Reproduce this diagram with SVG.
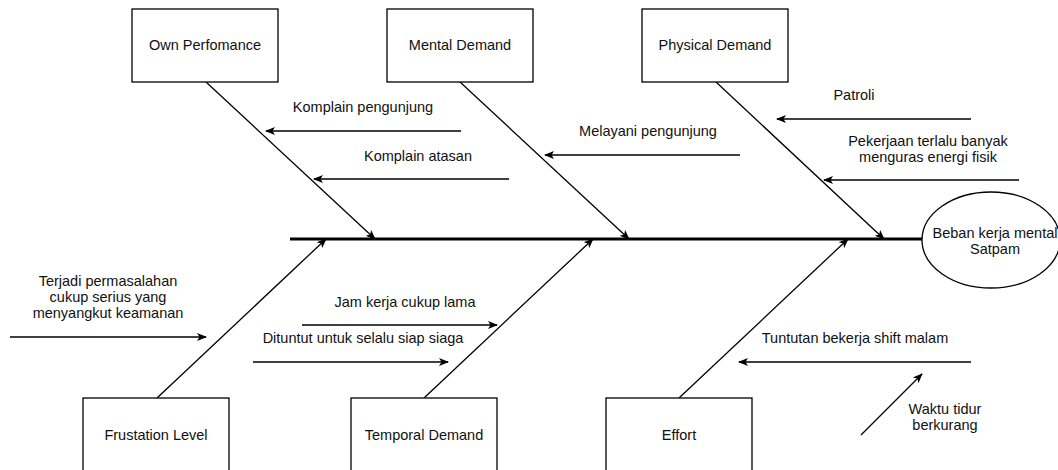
<svg xmlns="http://www.w3.org/2000/svg" width="1058" height="470" viewBox="0 0 1058 470">
<style>
.box{fill:#fff;stroke:#000;stroke-width:1.3}
.t{font-family:"Liberation Sans",Arial,sans-serif;font-size:14.5px;fill:#111;text-anchor:middle;dominant-baseline:central}
.c{stroke:#000;stroke-width:1.3;fill:none;marker-end:url(#ah)}
.spine{stroke:#000;stroke-width:3;fill:none}
</style>
<defs>
<marker id="ah" viewBox="0 0 10 10" refX="9" refY="5" markerWidth="10" markerHeight="10" markerUnits="userSpaceOnUse" orient="auto">
<path d="M0,1 L10,5 L0,9 L2.5,5 z" fill="#000"/>
</marker>
</defs>
<g id="connectors">
<line class="spine" x1="290" y1="239" x2="922" y2="239"/>
<line class="c" x1="206" y1="82" x2="375" y2="239"/>
<line class="c" x1="460" y1="82" x2="629" y2="239"/>
<line class="c" x1="716" y1="82" x2="884" y2="239"/>
<line class="c" x1="157" y1="398" x2="326" y2="239"/>
<line class="c" x1="424" y1="398" x2="593" y2="239"/>
<line class="c" x1="679" y1="398" x2="848" y2="239"/>
<line class="c" x1="461" y1="131" x2="266" y2="131"/>
<line class="c" x1="509" y1="179" x2="314" y2="179"/>
<line class="c" x1="740" y1="155" x2="545" y2="155"/>
<line class="c" x1="971" y1="119" x2="777" y2="119"/>
<line class="c" x1="1019" y1="180" x2="824" y2="180"/>
<line class="c" x1="10" y1="337" x2="206" y2="337"/>
<line class="c" x1="302" y1="325" x2="497" y2="325"/>
<line class="c" x1="253" y1="362" x2="448" y2="362"/>
<line class="c" x1="971" y1="362" x2="739" y2="362"/>
<line class="c" x1="861" y1="435" x2="922" y2="374"/>
</g>
<g id="own-perfomance"><rect class="box" x="132" y="9" width="146" height="73"/><text class="t" x="205" y="45">Own Perfomance</text></g>
<g id="mental-demand"><rect class="box" x="387" y="9" width="146" height="73"/><text class="t" x="460" y="45">Mental Demand</text></g>
<g id="physical-demand"><rect class="box" x="642" y="9" width="146" height="73"/><text class="t" x="715" y="45">Physical Demand</text></g>
<g id="frustation-level"><rect class="box" x="83" y="398" width="146" height="73"/><text class="t" x="156" y="435">Frustation Level</text></g>
<g id="temporal-demand"><rect class="box" x="351" y="398" width="146" height="73"/><text class="t" x="424" y="435">Temporal Demand</text></g>
<g id="effort"><rect class="box" x="606" y="398" width="146" height="73"/><text class="t" x="679" y="435">Effort</text></g>
<g id="beban-kerja"><ellipse class="box" cx="991" cy="240" rx="69" ry="48"/><text class="t" x="995" y="233">Beban kerja mental</text><text class="t" x="995" y="249">Satpam</text></g>
<g id="labels">
<text class="t" x="363" y="107">Komplain pengunjung</text>
<text class="t" x="418" y="156">Komplain atasan</text>
<text class="t" x="648" y="131">Melayani pengunjung</text>
<text class="t" x="854" y="95">Patroli</text>
<text class="t" x="928" y="141">Pekerjaan terlalu banyak</text>
<text class="t" x="928" y="157">menguras energi fisik</text>
<text class="t" x="108" y="281">Terjadi permasalahan</text>
<text class="t" x="108" y="297">cukup serius yang</text>
<text class="t" x="108" y="313">menyangkut keamanan</text>
<text class="t" x="405" y="302">Jam kerja cukup lama</text>
<text class="t" x="363" y="338">Dituntut untuk selalu siap siaga</text>
<text class="t" x="855" y="338">Tuntutan bekerja shift malam</text>
<text class="t" x="945" y="409">Waktu tidur</text>
<text class="t" x="945" y="425">berkurang</text>
</g>
</svg>
